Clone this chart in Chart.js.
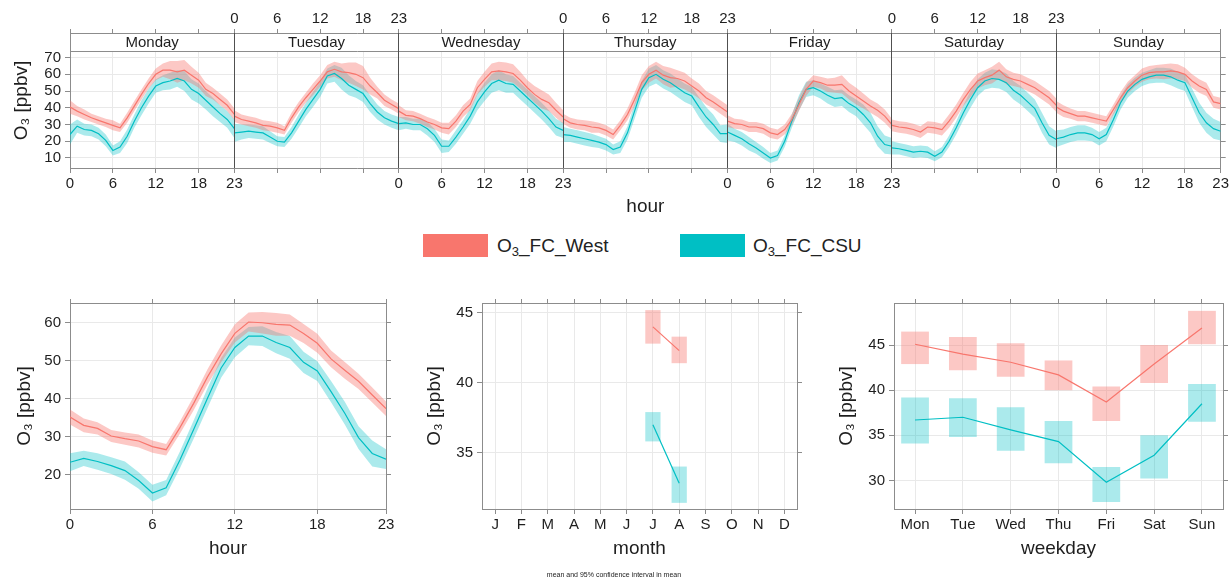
<!DOCTYPE html>
<html>
<head>
<meta charset="utf-8">
<script src="https://cdn.jsdelivr.net/npm/chart.js@4.4.1/dist/chart.umd.min.js"></script>
<style>
  body { margin: 0; background: #fff; width: 1231px; height: 579px; position: relative; overflow: hidden;
         font-family: "Liberation Sans", "DejaVu Sans", Arial, sans-serif; color: #222; }
  canvas { position: absolute; }
  #cTop   { left: 0;     top: 0; }
  #cHour  { left: 0;     top: 290px; }
  #cMonth { left: 410px; top: 290px; }
  #cWeek  { left: 820px; top: 290px; }
  .key { position: absolute; top: 234px; width: 65px; height: 23px; }
  .keyText { position: absolute; top: 234px; font-size: 19px; line-height: 23px; white-space: nowrap; }
  .keyText sub { font-size: 13px; vertical-align: -4px; line-height: 0; }
  #caption { position: absolute; top: 571px; left: 0; width: 1228px; text-align: center; font-size: 7px; }
</style>
</head>
<body>
<canvas id="cTop" width="1231" height="222"></canvas>
<canvas id="cHour" width="400" height="289"></canvas>
<canvas id="cMonth" width="400" height="289"></canvas>
<canvas id="cWeek" width="411" height="289"></canvas>

<div class="key" style="left:423px; background:#F8766D"></div>
<div class="keyText" style="left:497px">O<sub>3</sub>_FC_West</div>
<div class="key" style="left:680px; background:#00BFC4"></div>
<div class="keyText" style="left:753px">O<sub>3</sub>_FC_CSU</div>
<div id="caption">mean and 95% confidence interval in mean</div>

<script>
'use strict';

// ── Data ─────────────────────────────────────────────────────────────────────

const dayNames = ['Monday', 'Tuesday', 'Wednesday', 'Thursday', 'Friday', 'Saturday', 'Sunday'];

// hour of week (Mon 0 .. Sun 23), mean O3 and half width of the 95% CI
const weekWest = [
  40.5, 38, 36, 34, 32.5, 31, 29.5, 28, 34, 41, 48, 54.5, 60, 62.5, 62.5, 61.5, 62.5, 59.5, 56.5, 51, 48.5, 45, 41.5, 36,
  35, 33, 32, 31, 29.5, 29, 28, 26.5, 34, 40.5, 46, 51, 56, 61.5, 63, 61.5, 61, 60, 58, 53, 49, 44.5, 42, 39.5,
  38, 35.5, 35, 33.5, 31.5, 30, 28, 27.5, 32, 38, 42, 52, 57, 61.5, 62, 61.5, 60.5, 56.5, 52, 48, 45, 43, 38.5, 34.5,
  33.5, 31, 30, 29.5, 28.5, 28, 26.5, 24, 29.5, 36, 45, 55, 60, 62.5, 59.5, 58, 57.5, 56, 53, 50, 46, 43.5, 40.5, 37.5,
  32, 30.5, 30, 28.5, 28.5, 27.5, 25, 24, 27, 33, 42, 51, 56, 55, 53.5, 53.5, 54, 50, 47, 44, 41, 38.5, 35, 30,
  29.5, 28.5, 28, 27, 25.5, 28.5, 28, 27, 32, 38, 45, 51, 56, 58, 59.5, 62.5, 58.5, 57, 56, 54, 52, 49, 46, 41.5,
  40.5, 38, 36.5, 35, 35, 34, 33, 32, 39, 46, 52, 56, 59.5, 61, 61.5, 61.5, 62, 61.5, 60, 56, 53, 51, 43.5, 42.5,
];
const ciWeekWest = [
  4, 3, 3, 2.5, 2.5, 2.5, 3, 2.5, 3, 3, 3, 3, 3.5, 4, 5.5, 6.5, 6, 5, 4.5, 4, 3.5, 3.5, 3.5, 3.5,
  3.5, 3, 3, 3, 3, 3, 3, 2.5, 3, 3, 3, 3.5, 3.5, 4, 4.5, 5, 6, 7, 7, 5, 3.5, 3.5, 3, 3,
  3.5, 3, 3, 3, 3, 3, 3, 3.5, 3.5, 3.5, 3.5, 4, 4.5, 5, 5.5, 5.5, 5.5, 5, 4.5, 5, 5.5, 5, 4.5, 4,
  3, 3, 3, 3, 3.5, 3, 3, 3, 3, 3.5, 4, 4.5, 5, 5, 5.5, 6, 5, 5, 4.5, 4.5, 4, 4, 4, 4,
  3.5, 3, 3, 3, 3, 3, 3, 3, 3, 3.5, 4, 4, 3.5, 3.5, 4, 4.5, 5.5, 5, 5, 4.5, 4, 4, 4, 3.5,
  3.5, 3.5, 3.5, 3.5, 3.5, 3.5, 3.5, 3.5, 4, 4, 4, 4.5, 4.5, 4.5, 5, 5, 4.5, 4, 4, 4, 4, 4, 4, 4,
  3.5, 3.5, 3, 3, 3, 3, 3, 3, 3, 3.5, 3.5, 3.5, 4, 4, 4, 4.5, 4.5, 4.5, 4, 4, 4, 4, 3.5, 3.5,
];
const weekCsu = [
  24, 29, 27, 26.5, 24.5, 20.5, 14.5, 16.5, 23, 32, 40, 47, 53, 55, 56, 57.5, 56, 51, 48.5, 44.5, 40.5, 36.5, 33, 27.5,
  25, 25.5, 26, 25.5, 25, 22.5, 20, 19.5, 25, 32, 39, 45, 51, 59, 60.5, 57.5, 53.5, 51, 48.5, 42.5, 37.5, 34, 32, 30.5,
  30.5, 31, 30, 30, 27.5, 23.5, 17, 17, 22.5, 28.5, 35, 43.5, 49.5, 54.5, 56.5, 54.5, 54, 50, 46, 42, 38, 33.5, 28.5, 26.5,
  24, 23.5, 22.5, 21.5, 20.5, 19.5, 18, 15, 16.5, 25, 38, 51, 58, 60, 57, 55, 52, 49, 47, 40.5, 34.5, 30, 24.5, 24.5,
  25.5, 23.5, 21.5, 18.5, 16, 13, 10, 11.5, 20, 32, 43, 51, 52, 50, 47.5, 45.5, 46, 42.5, 40, 36, 31, 23, 18, 17,
  16, 15.5, 14.5, 13.5, 14, 13.5, 11, 13.5, 20, 28, 37, 45, 52, 56, 57.5, 57, 55, 50.5, 47.5, 43.5, 39.5, 31, 23.5, 21,
  21.5, 22.5, 24, 25, 25, 24, 21.5, 24, 33, 43, 50, 54, 57, 58.5, 59.5, 59.5, 58.5, 56.5, 55, 46, 37, 31, 27.5, 26,
];
const ciWeekCsu = [
  6, 4, 3.5, 3.5, 3.5, 3.5, 3, 3.5, 4, 4, 4.5, 4.5, 4, 4.5, 5, 5, 6, 6, 6, 5.5, 5.5, 5, 5, 5.5,
  5.5, 4.5, 4, 4, 4, 3.5, 3, 3, 3.5, 4, 4, 4.5, 4.5, 4.5, 5, 6.5, 6, 5, 5, 5, 4.5, 4, 4, 4,
  4, 3.5, 3.5, 3.5, 4, 4, 4, 3.5, 4, 4, 4.5, 5, 5.5, 5.5, 6, 5.5, 5, 5, 5, 5, 5, 5, 5, 4.5,
  4.5, 4, 4, 4, 4, 3.5, 3.5, 3, 3.5, 4, 4.5, 5, 5.5, 5.5, 5.5, 5.5, 5.5, 5.5, 5.5, 6, 6, 6, 5, 5.5,
  5, 4, 4, 4, 3.5, 3.5, 3, 3, 3.5, 4, 4.5, 4.5, 4.5, 4.5, 5, 5, 5, 5, 5, 6, 6, 6, 5.5, 5,
  4, 3.5, 3.5, 3.5, 3.5, 3.5, 3, 3, 3.5, 4, 4.5, 5, 5, 5, 5.5, 5.5, 5.5, 5.5, 5.5, 5.5, 5.5, 6, 5.5, 5,
  5, 4.5, 4.5, 4.5, 4.5, 4, 4, 4, 4, 4, 4, 4, 4, 4, 4.5, 4.5, 5, 5, 5, 5.5, 6, 6, 6, 5.5,
];

// diurnal cycle (hour 0..23)
const hourWest   = [35.2, 33, 32.2, 30.2, 29.5, 28.9, 27.4, 26.6, 32.4, 38.8, 45.7, 51.8, 57.2, 60.2, 60, 59.6, 59.4, 57.2, 54.6, 50.5, 47.5, 44.6, 41, 37.4];
const ciHourWest = [2, 1.8, 1.6, 1.6, 1.6, 1.7, 1.6, 1.5, 1.6, 1.8, 2, 2.2, 2.4, 2.5, 2.8, 3, 2.8, 2.5, 2.5, 2.2, 2.2, 2, 2, 1.9];
const hourCsu    = [23.3, 24.3, 23.5, 22.4, 21.1, 18.5, 15.2, 16.6, 23.9, 31.9, 40.1, 48.1, 53.5, 56.5, 56.5, 54.8, 53.5, 49.6, 47.3, 41.9, 36.2, 29.8, 25.6, 24.1];
const ciHourCsu  = [2.4, 2, 2.2, 2.2, 2.4, 2.2, 2.2, 2, 2.2, 2.4, 2.6, 2.6, 2.6, 2.4, 2.6, 2.8, 3, 2.8, 2.6, 2.8, 3, 3, 3.4, 2.6];

// months (only July and August have data)
const monthLabels  = ['J', 'F', 'M', 'A', 'M', 'J', 'J', 'A', 'S', 'O', 'N', 'D'];
const monthNums    = [7, 8];
const monthWest    = [44.0, 42.3];
const monthWestLo  = [42.8, 41.4];
const monthWestHi  = [45.2, 43.3];
const monthCsu     = [37.0, 32.8];
const monthCsuLo   = [35.8, 31.4];
const monthCsuHi   = [37.9, 34.0];

// weekdays
const wdLabels = ['Mon', 'Tue', 'Wed', 'Thu', 'Fri', 'Sat', 'Sun'];
const wdWest   = [45.1, 44.0, 43.1, 41.7, 38.7, 42.9, 46.9];
const wdWestLo = [42.9, 42.2, 41.5, 40.0, 36.6, 40.8, 45.1];
const wdWestHi = [46.5, 45.9, 45.2, 43.3, 40.4, 45.0, 48.8];
const wdCsu    = [36.7, 37.0, 35.6, 34.3, 29.8, 32.8, 38.5];
const wdCsuLo  = [34.1, 34.8, 33.3, 31.9, 27.6, 30.2, 36.5];
const wdCsuHi  = [39.2, 39.1, 38.1, 36.6, 31.5, 35.0, 40.7];

// ── Styles ───────────────────────────────────────────────────────────────────

const RED = '#F8766D';
const CYAN = '#00BFC4';
const RED_FILL = 'rgba(248,118,109,0.4)';
const CYAN_FILL = 'rgba(0,191,196,0.33)';
const GRID = '#e9e9e9';
const FRAME = '#8c8c8c';
const DIVIDER = '#505050';
const INK = '#1e1e1e';
const FONT = '"Liberation Sans", "DejaVu Sans", Arial, sans-serif';
const Y_TITLE = 'O\u2083 [ppbv]';

Chart.defaults.font.family = FONT;
Chart.defaults.color = INK;
Chart.defaults.animation = false;
Chart.defaults.plugins.legend.display = false;
Chart.defaults.plugins.tooltip.enabled = false;

const hourTicks = [0, 6, 12, 18, 23];
const DAY_SPAN = 23;
const panelTop = 73.4; // top of the weekly panel, strip sits above it

// ── Helpers ──────────────────────────────────────────────────────────────────

const setTicks = list => scale => { scale.ticks = list.map(v => ({ value: v })); };
const fixSize = (key, px) => scale => { scale[key] = px; };

function buildScales(c) {
  return {
    x: {
      type: 'linear', position: 'bottom', min: c.xMin, max: c.xMax, offset: false,
      afterBuildTicks: setTicks(c.xTicks),
      afterFit: fixSize('height', c.bottom),
      grid: { color: c.xGrid || GRID, tickLength: 5, tickColor: FRAME, offset: false },
      border: { color: FRAME },
      ticks: { autoSkip: false, maxRotation: 0, padding: 2, font: { size: 15 }, callback: c.xLabel },
      title: { display: true, text: c.xTitle, font: { size: 19 }, padding: { top: 0, bottom: c.xTitlePad } },
    },
    xTop: {
      type: 'linear', position: 'top', min: c.xMin, max: c.xMax, offset: false,
      afterBuildTicks: setTicks(c.xTicks),
      afterFit: fixSize('height', c.top),
      grid: { drawOnChartArea: false, tickLength: 4, tickColor: FRAME, offset: false },
      border: { color: FRAME },
      ticks: { autoSkip: false, maxRotation: 0, padding: 1, font: { size: 15 }, callback: c.xTopLabel || (() => '') },
    },
    y: {
      type: 'linear', position: 'left', min: c.yMin, max: c.yMax,
      afterBuildTicks: setTicks(c.yTicks),
      afterFit: fixSize('width', c.left),
      grid: { color: GRID, tickLength: 5, tickColor: FRAME },
      border: { color: FRAME },
      ticks: { padding: 4, font: { size: 15 } },
      title: { display: true, text: Y_TITLE, font: { size: 19 }, padding: { top: c.yTitlePad, bottom: 0 } },
    },
    yRight: {
      type: 'linear', position: 'right', min: c.yMin, max: c.yMax,
      afterBuildTicks: setTicks(c.yTicks),
      afterFit: fixSize('width', c.right),
      grid: { drawOnChartArea: false, tickLength: 5, tickColor: FRAME },
      border: { color: FRAME },
      ticks: { callback: () => '' },
    },
  };
}

function meanSet(data, color) {
  return { type: 'line', data, borderColor: color, borderWidth: 1.2, pointRadius: 0, fill: false,
           tension: 0, xAxisID: 'x', yAxisID: 'y' };
}
function bandSet(data, color, fill) {
  return { type: 'line', data, borderColor: 'rgba(0,0,0,0)', borderWidth: 0, pointRadius: 0,
           backgroundColor: color, fill, tension: 0, xAxisID: 'x', yAxisID: 'y' };
}
function boxSet(data, color) {
  return { type: 'bar', data, backgroundColor: color, borderWidth: 0, grouped: false,
           barPercentage: 0.58, categoryPercentage: 1, xAxisID: 'x', yAxisID: 'y' };
}

// one point per hour of week, days laid side by side and broken at each panel edge
function weekPoints(values, ci, sign) {
  const pts = [];
  values.forEach((v, i) => {
    const d = Math.floor(i / 24), h = i % 24;
    if (h === 0 && d > 0) pts.push({ x: d * DAY_SPAN, y: null });
    pts.push({ x: d * DAY_SPAN + h, y: ci ? v + sign * ci[i] : v });
  });
  return pts;
}
function hourPoints(values, ci, sign) {
  return values.map((v, h) => ({ x: h, y: ci ? v + sign * ci[h] : v }));
}

// lattice-style alternating labels: even days below, odd days on top
function weekLabel(v, onTop) {
  const d = Math.floor(v / DAY_SPAN), h = v % DAY_SPAN;
  const want = onTop ? 1 : 0;
  if (h !== 0) return d % 2 === want ? String(h) : '';
  if (d < 7 && d % 2 === want) return '0';
  if (d > 0 && (d - 1) % 2 === want) return '23';
  return '';
}

const weekTicks = [];
dayNames.forEach((_, d) => hourTicks.forEach(h => {
  const v = d * DAY_SPAN + h;
  if (!weekTicks.includes(v)) weekTicks.push(v);
}));

const align = px => Math.round(px - 0.5) + 0.5;

// strip with the day names, plus the dark panel dividers drawn over the data
const stripPlugin = {
  id: 'strip',
  beforeDatasetsDraw(chart) {
    const { ctx, chartArea: a, scales } = chart;
    const xs = scales.x;
    const yb = align(scales.y.getPixelForValue(panelTop));
    ctx.save();
    ctx.fillStyle = '#fff';
    ctx.fillRect(a.left + 1, a.top + 1, a.right - a.left - 2, yb - a.top - 1.5);
    ctx.lineWidth = 1;
    ctx.strokeStyle = FRAME;
    ctx.beginPath();
    ctx.moveTo(a.left, yb);
    ctx.lineTo(a.right, yb);
    ctx.stroke();
    ctx.fillStyle = INK;
    ctx.font = '15px ' + FONT;
    ctx.textAlign = 'center';
    ctx.textBaseline = 'middle';
    dayNames.forEach((name, d) => {
      ctx.fillText(name, xs.getPixelForValue(d * DAY_SPAN + DAY_SPAN / 2), (a.top + yb) / 2 + 1);
    });
    ctx.restore();
  },
  afterDatasetsDraw(chart) {
    const { ctx, chartArea: a, scales } = chart;
    ctx.save();
    ctx.lineWidth = 1;
    ctx.strokeStyle = DIVIDER;
    ctx.beginPath();
    for (let d = 1; d < dayNames.length; d++) {
      const px = align(scales.x.getPixelForValue(d * DAY_SPAN));
      ctx.moveTo(px, a.top);
      ctx.lineTo(px, a.bottom);
    }
    ctx.stroke();
    ctx.restore();
  },
};

// ── Weekly panel ─────────────────────────────────────────────────────────────

new Chart(document.getElementById('cTop'), {
  type: 'line',
  data: {
    datasets: [
      meanSet(weekPoints(weekWest), RED),
      meanSet(weekPoints(weekCsu), CYAN),
      bandSet(weekPoints(weekWest, ciWeekWest, 1), RED_FILL, '+1'),
      bandSet(weekPoints(weekWest, ciWeekWest, -1), RED_FILL, false),
      bandSet(weekPoints(weekCsu, ciWeekCsu, 1), CYAN_FILL, '+1'),
      bandSet(weekPoints(weekCsu, ciWeekCsu, -1), CYAN_FILL, false),
    ],
  },
  options: {
    responsive: false,
    spanGaps: false,
    layout: { padding: 0 },
    scales: buildScales({
      xMin: 0, xMax: DAY_SPAN * 7, xTicks: weekTicks,
      xLabel: v => weekLabel(v, false), xTopLabel: v => weekLabel(v, true),
      xTitle: 'hour', xTitlePad: 3.5,
      yMin: 4.0, yMax: 84.7, yTicks: [10, 20, 30, 40, 50, 60, 70], yTitlePad: 10.5,
      left: 70, right: 9, top: 33, bottom: 54,
    }),
  },
  plugins: [stripPlugin],
});

// ── Hour panel ───────────────────────────────────────────────────────────────

new Chart(document.getElementById('cHour'), {
  type: 'line',
  data: {
    datasets: [
      meanSet(hourPoints(hourWest), RED),
      meanSet(hourPoints(hourCsu), CYAN),
      bandSet(hourPoints(hourWest, ciHourWest, 1), RED_FILL, '+1'),
      bandSet(hourPoints(hourWest, ciHourWest, -1), RED_FILL, false),
      bandSet(hourPoints(hourCsu, ciHourCsu, 1), CYAN_FILL, '+1'),
      bandSet(hourPoints(hourCsu, ciHourCsu, -1), CYAN_FILL, false),
    ],
  },
  options: {
    responsive: false,
    scales: buildScales({
      xMin: 0, xMax: 23, xTicks: hourTicks, xLabel: v => String(v),
      xTitle: 'hour', xTitlePad: 18.5,
      yMin: 11.0, yMax: 65.2, yTicks: [20, 30, 40, 50, 60], yTitlePad: 13.5,
      left: 70, right: 14, top: 10, bottom: 70,
    }),
  },
});

// ── Month panel ──────────────────────────────────────────────────────────────

const monthIdx = monthLabels.map((_, i) => i + 1);
new Chart(document.getElementById('cMonth'), {
  type: 'bar',
  data: {
    datasets: [
      meanSet(monthNums.map((m, i) => ({ x: m, y: monthWest[i] })), RED),
      meanSet(monthNums.map((m, i) => ({ x: m, y: monthCsu[i] })), CYAN),
      boxSet(monthNums.map((m, i) => ({ x: m, y: [monthWestLo[i], monthWestHi[i]] })), RED_FILL),
      boxSet(monthNums.map((m, i) => ({ x: m, y: [monthCsuLo[i], monthCsuHi[i]] })), CYAN_FILL),
    ],
  },
  options: {
    responsive: false,
    scales: buildScales({
      xMin: 0.5, xMax: 12.48, xTicks: monthIdx, xLabel: v => monthLabels[v - 1],
      xTitle: 'month', xTitlePad: 18.5,
      yMin: 30.96, yMax: 45.71, yTicks: [35, 40, 45], yTitlePad: 13.5,
      left: 72, right: 13, top: 10, bottom: 70,
    }),
  },
});

// ── Weekday panel ────────────────────────────────────────────────────────────

const wdIdx = wdLabels.map((_, i) => i);
new Chart(document.getElementById('cWeek'), {
  type: 'bar',
  data: {
    datasets: [
      meanSet(wdIdx.map(i => ({ x: i, y: wdWest[i] })), RED),
      meanSet(wdIdx.map(i => ({ x: i, y: wdCsu[i] })), CYAN),
      boxSet(wdIdx.map(i => ({ x: i, y: [wdWestLo[i], wdWestHi[i]] })), RED_FILL),
      boxSet(wdIdx.map(i => ({ x: i, y: [wdCsuLo[i], wdCsuHi[i]] })), CYAN_FILL),
    ],
  },
  options: {
    responsive: false,
    scales: buildScales({
      xMin: -0.44, xMax: 6.44, xTicks: wdIdx, xLabel: v => wdLabels[v],
      xTitle: 'weekday', xTitlePad: 18.5,
      yMin: 26.83, yMax: 49.67, yTicks: [30, 35, 40, 45], yTitlePad: 15.5,
      left: 74, right: 8, top: 10, bottom: 70,
    }),
  },
});
</script>
</body>
</html>
